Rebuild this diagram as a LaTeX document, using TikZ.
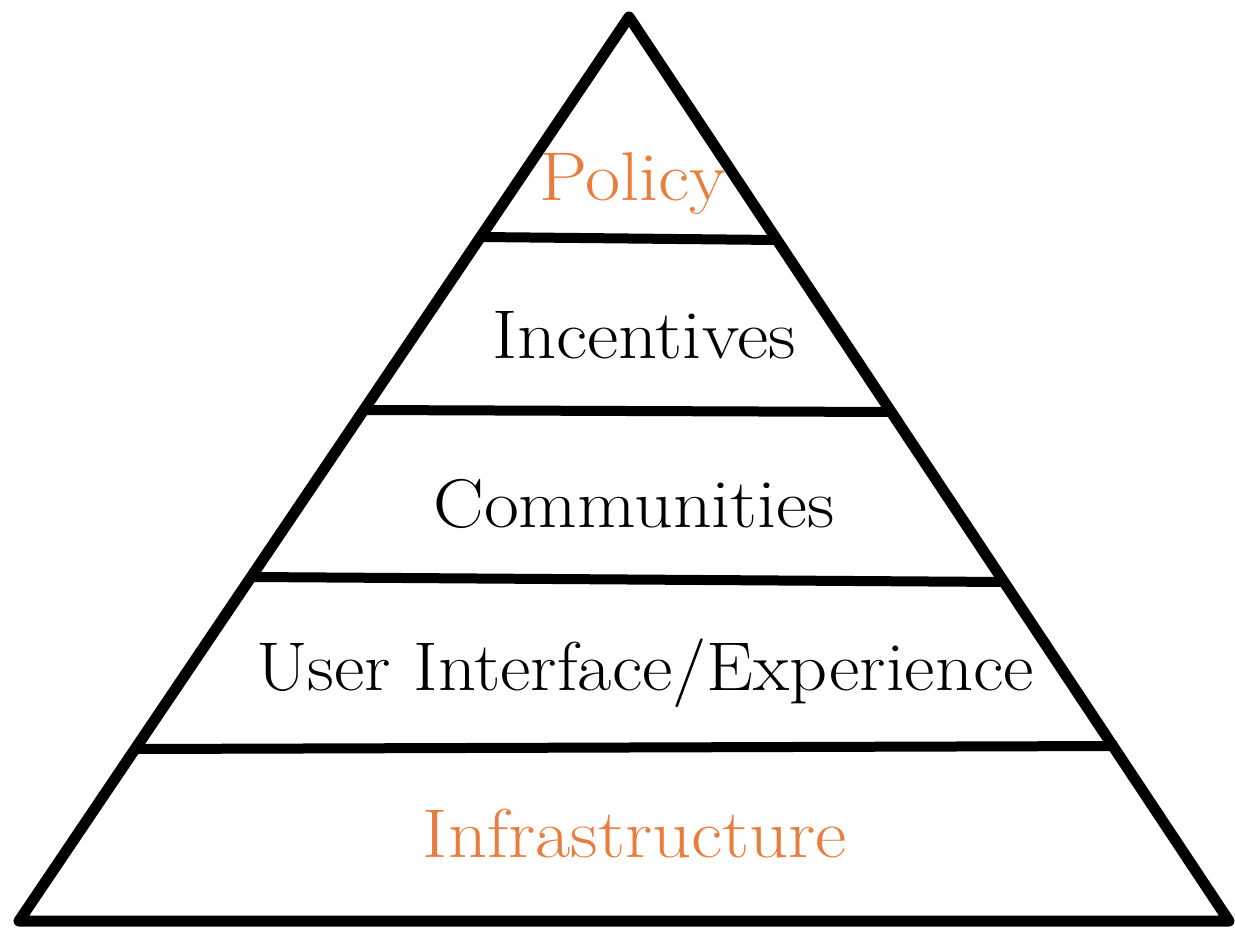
\documentclass[tikz,border=0pt]{standalone}
\definecolor{accent}{RGB}{232,125,62}
\newcommand{\widetext}[2][1.11]{\scalebox{#1}[1]{#2}}
\tikzset{
  edge/.style={line width=11pt, line join=round, line cap=round, black},
  bar/.style={line width=10pt, black},
  lbl/.style={anchor=base, inner sep=0pt, font=\fontsize{69}{80}\selectfont},
}
\begin{document}
\begin{tikzpicture}[x=1pt,y=-1pt]
\useasboundingbox (0,0) rectangle (1235,929);
\coordinate (apex) at (629,17);
\coordinate (bl) at (19,921);
\coordinate (br) at (1229,921);
\draw[edge] (apex) -- (bl) -- (br) -- cycle;
% bars
\coordinate (a1) at (481,237); \coordinate (b1) at (776,240);
\coordinate (a2) at (364,410); \coordinate (b2) at (892,412);
\coordinate (a3) at (252,577); \coordinate (b3) at (1005,582);
\coordinate (a4) at (137,749); \coordinate (b4) at (1117,746);
\draw[bar] (a1) -- (b1);
\draw[bar] (a2) -- (b2);
\draw[bar] (a3) -- (b3);
\draw[bar] (a4) -- (b4);
% labels
\node[lbl, text=accent] (policy) at (633,200) {\widetext{Policy}};
\node[lbl] (incent) at (644,358) {\widetext{Incentives}};
\node[lbl] (comm) at (634,527) {\widetext[1.1]{Communities}};
\node[lbl] (ui) at (645,690) {\widetext[1.08]{User Interface/Experience}};
\node[lbl, text=accent] (infra) at (635,857) {\widetext{Infrastructure}};
\end{tikzpicture}
\end{document}
